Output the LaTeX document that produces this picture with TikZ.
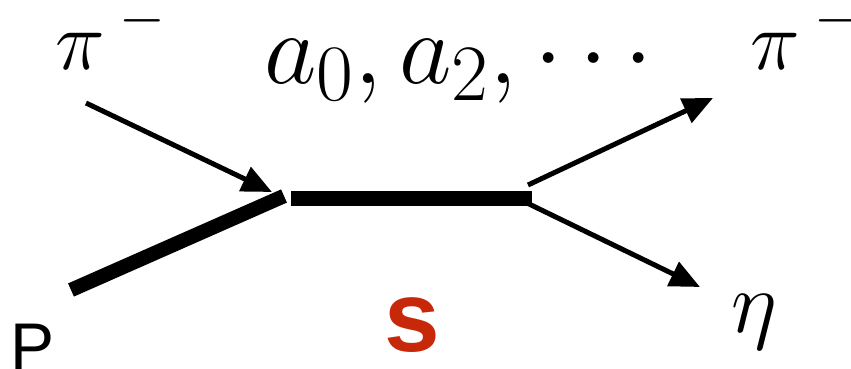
\RequirePackage{fix-cm}
\documentclass[tikz,border=0pt]{standalone}
\usepackage{fontspec}
\usetikzlibrary{arrows.meta}
\newfontfamily\helv{Liberation Sans}
\definecolor{sred}{RGB}{200,40,10}
\DeclareMathSizes{51}{51}{40}{30}
\newcommand{\pimin}{$\pi^{\kern7pt\raisebox{2pt}{$\scriptstyle -$}}$}
\begin{document}
\begin{tikzpicture}[x=0.5pt,y=-0.5pt,
        meson/.style={line width=2.5pt,-{Triangle[length=15pt,width=13pt]}},
        heavy/.style={line width=7.2pt},
        lbl/.style={anchor=base west,inner sep=0pt}]
        \useasboundingbox (0,0) rectangle (851,369);
        \coordinate (pstart) at (71,290);
        \coordinate (pend) at (284,196);
        \coordinate (vin) at (291,198);
        \coordinate (vout) at (532,198);
        \coordinate (min) at (86,103);
        \coordinate (mtip) at (272,192);
        \coordinate (upfoot) at (528,185);
        \coordinate (uptip) at (713,98);
        \coordinate (dnfoot) at (527,203);
        \coordinate (dntip) at (700,287);
        \draw[heavy] (pstart) -- (pend);
        \draw[heavy,line width=7.5pt] (vin) -- (vout);
        \draw[meson] (min) -- (mtip);
        \draw[meson] (upfoot) -- (uptip);
        \draw[meson] (dnfoot) -- (dntip);
        \node[lbl,font=\fontsize{42}{50}\selectfont] (pin) at (55,70) {\pimin};
        \node[lbl,font=\fontsize{42}{50}\selectfont] (pout) at (750,70) {\pimin};
        \node[lbl,font=\fontsize{51}{60}\selectfont] (aex) at (264,84) {$a_0, a_2, \cdots$};
        \node[lbl,font=\fontsize{44}{52}\selectfont] (eta) at (731,332) {$\eta$};
        \node[lbl,font=\helv\fontsize{33}{40}\selectfont] (prot) at (10,369) {P};
        \node[lbl,font=\helv\bfseries\fontsize{50}{60}\selectfont,text=sred] (sch) at (384,351) {s};
    \end{tikzpicture}
\end{document}
